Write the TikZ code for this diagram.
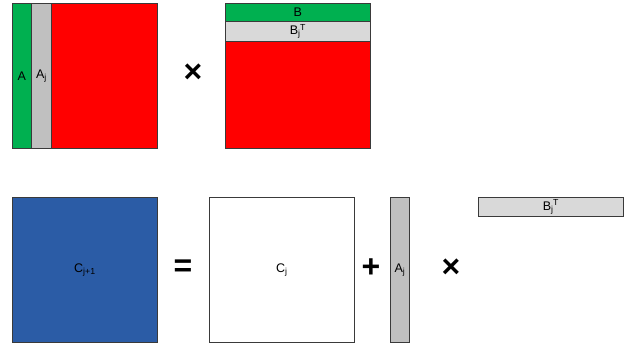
\documentclass[tikz,border=0pt]{standalone}
\usepackage{fontspec}
\setmainfont{Liberation Sans}
\definecolor{mgreen}{HTML}{00B050}
\definecolor{mred}{HTML}{FF0000}
\definecolor{mgray}{HTML}{C0C0C0}
\definecolor{lgray}{HTML}{D9D9D9}
\definecolor{mblue}{HTML}{2B5CA6}
\definecolor{edge}{HTML}{3A3A3A}
\newcommand{\subj}{\textsubscript{j}}
\newcommand{\subsupj}{\textsubscript{j}\kern-0.5pt\textsuperscript{T}}
\begin{document}
\begin{tikzpicture}[x=1pt,y=-1pt,
  cell/.style={draw=edge,line width=0.8pt,inner sep=0pt,anchor=north west},
  lbl/.style={font=\fontsize{12.5}{13}\selectfont,inner sep=0pt},
  op/.style={font=\fontsize{32}{32}\selectfont\bfseries,inner sep=0pt}]
\useasboundingbox (0,0) rectangle (630,345);
% top-left matrix A
\fill[mred] (12,3) rectangle (157,148);
\node[cell,fill=mgreen,minimum width=19pt,minimum height=145pt] (A) at (12,3) {};
\node[cell,fill=mgray,minimum width=20pt,minimum height=145pt] (Aj) at (31,3) {};
\draw[cell] (12,3) rectangle (157,148);
\node[lbl] (tA) at (A.center) {A};
\node[lbl] (tAj) at (Aj.center) {A\subj};
% operator
\node[op] (x1) at (193,73) {×};
% top-right matrix B
\fill[mred] (225,3) rectangle (370,148);
\node[cell,fill=mgreen,minimum width=145pt,minimum height=18pt] (B) at (225,3) {};
\node[cell,fill=lgray,minimum width=145pt,minimum height=20pt] (Bj) at (225,21) {};
\draw[cell] (225,3) rectangle (370,148);
\node[lbl] (tB) at (B.center) {B};
\node[lbl] (tBj) at (Bj.center) {B\subsupj};
% bottom row
\node[cell,fill=mblue,minimum width=145pt,minimum height=145pt] (C1) at (12,197) {};
\node[lbl] at (C1.center) {C\textsubscript{j+1}};
\node[op] (eq) at (183,268) {=};
\node[cell,fill=white,minimum width=145pt,minimum height=145pt] (Cj) at (209,197) {};
\node[lbl] at (Cj.center) {C\subj};
\node[op] (plus) at (371,268) {+};
\node[cell,fill=mgray,minimum width=19pt,minimum height=145pt] (Ajb) at (390,197) {};
\node[lbl] at (Ajb.center) {A\subj};
\node[op] (x2) at (451,268) {×};
\node[cell,fill=lgray,minimum width=145pt,minimum height=19pt] (Bjb) at (478,197) {};
\node[lbl] at (Bjb.center) {B\subsupj};
\end{tikzpicture}
\end{document}
